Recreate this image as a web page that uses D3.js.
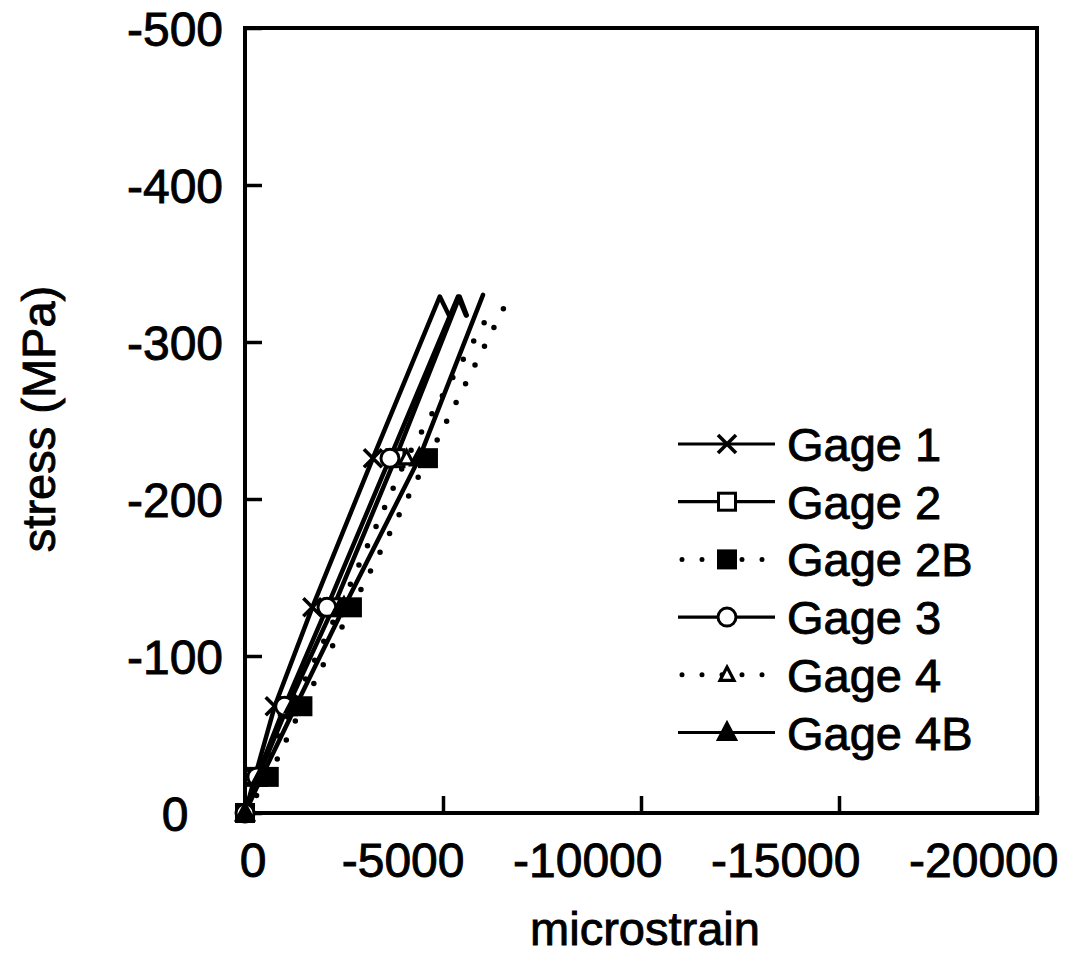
<!DOCTYPE html>
<html>
<head>
<meta charset="utf-8">
<script src="https://cdn.jsdelivr.net/npm/d3@7/dist/d3.min.js"></script>
<style>
  html, body { margin: 0; padding: 0; background: #fff; }
  svg { display: block; }
  text { font-family: "Liberation Sans", Arial, Helvetica, sans-serif; fill: #000; stroke: #000; stroke-width: 0.9px; }
</style>
</head>
<body>
<svg id="chart" width="1067" height="959"></svg>
<script>
// Strain gage readings: stress (MPa) against microstrain, compression negative.
const seriesNames = ["Gage 1", "Gage 2", "Gage 2B", "Gage 3", "Gage 4", "Gage 4B"];

const stressGage1  = [0, -23, -68, -131, -226, -329, -316];
const strainGage1  = [0, -250, -750, -1700, -3230, -4920, -5170];

const stressGage2  = [0, -23, -68, -131, -226, -329, -317];
const strainGage2  = [0, -330, -1080, -2230, -3800, -5420, -5600];

const stressGage2B = [0, -23, -68, -131, -226, -330];
const strainGage2B = [0, -600, -1450, -2700, -4620, -6700];

const stressGage3  = [0, -23, -68, -131, -226, -329, -317];
const strainGage3  = [0, -300, -1000, -2070, -3660, -5380, -5580];

const stressGage4  = [0, -23, -68, -131, -226, -322];
const strainGage4  = [0, -380, -1200, -2400, -4080, -6260];

const stressGage4B = [0, -23, -68, -131, -226, -330];
const strainGage4B = [0, -420, -1280, -2500, -4400, -6010];

// Load steps at which a symbol is plotted
const markedStress = [0, -23, -68, -131, -226];

const xTicks = [0, -5000, -10000, -15000, -20000];
const yTicks = [0, -100, -200, -300, -400, -500];

const series = [
  { name: seriesNames[0], strain: strainGage1,  stress: stressGage1,  dotted: false, symbol: "cross" },
  { name: seriesNames[1], strain: strainGage2,  stress: stressGage2,  dotted: false, symbol: "squareOpen" },
  { name: seriesNames[2], strain: strainGage2B, stress: stressGage2B, dotted: true,  symbol: "squareFilled" },
  { name: seriesNames[3], strain: strainGage3,  stress: stressGage3,  dotted: false, symbol: "circleOpen" },
  { name: seriesNames[4], strain: strainGage4,  stress: stressGage4,  dotted: true,  symbol: "triangleOpen" },
  { name: seriesNames[5], strain: strainGage4B, stress: stressGage4B, dotted: false, symbol: "triangleFilled" }
];

const svg = d3.select("#chart");
const plotLeft = 245, plotRight = 1037, plotTop = 28, plotBottom = 813;

const x = d3.scaleLinear().domain([0, -20000]).range([plotLeft, plotRight]);
const y = d3.scaleLinear().domain([0, -500]).range([plotBottom, plotTop]);

// Axes with inward ticks
const yAxis = svg.append("g")
  .attr("transform", `translate(${plotLeft},0)`)
  .call(d3.axisLeft(y).tickValues(yTicks).tickSizeInner(-17).tickSizeOuter(0)
    .tickFormat(d => String(d)));
yAxis.select(".domain").remove();
yAxis.selectAll(".tick line").attr("stroke", "#000").attr("stroke-width", 3.5);
yAxis.selectAll(".tick text")
  .attr("x", -70).attr("dy", "0.36em")
  .attr("text-anchor", "middle")
  .style("font-size", "48px");

const xAxis = svg.append("g")
  .attr("transform", `translate(0,${plotBottom})`)
  .call(d3.axisBottom(x).tickValues(xTicks).tickSizeInner(-17).tickSizeOuter(0)
    .tickFormat(d => String(d)));
xAxis.select(".domain").remove();
xAxis.selectAll(".tick line").attr("stroke", "#000").attr("stroke-width", 3.5);
xAxis.selectAll(".tick text")
  .attr("x", 21).attr("y", 64).attr("dy", 0)
  .attr("text-anchor", "end")
  .style("font-size", "48px");

// Plot frame
svg.append("rect")
  .attr("x", plotLeft).attr("y", plotTop)
  .attr("width", plotRight - plotLeft).attr("height", plotBottom - plotTop)
  .attr("fill", "none").attr("stroke", "#000").attr("stroke-width", 4);

// Axis titles
svg.append("text")
  .attr("x", 645).attr("y", 945)
  .attr("text-anchor", "middle")
  .style("font-size", "47px")
  .text("microstrain");

svg.append("text")
  .attr("transform", "translate(55,419) rotate(-90)")
  .attr("text-anchor", "middle")
  .style("font-size", "47px")
  .text("stress (MPa)");

// Symbol drawing
function drawSymbol(g, kind, cx, cy, scale) {
  const s = scale || 1;
  if (kind === "cross") {
    const h = 9 * s;
    g.append("path")
      .attr("d", `M${cx - h},${cy - h}L${cx + h},${cy + h}M${cx - h},${cy + h}L${cx + h},${cy - h}`)
      .attr("stroke", "#000").attr("stroke-width", 3.6).attr("fill", "none");
  } else if (kind === "squareOpen" || kind === "squareFilled") {
    const h = 8.5 * s;
    g.append("rect")
      .attr("x", cx - h).attr("y", cy - h).attr("width", 2 * h).attr("height", 2 * h)
      .attr("fill", kind === "squareFilled" ? "#000" : "#fff")
      .attr("stroke", "#000").attr("stroke-width", 3);
  } else if (kind === "circleOpen") {
    g.append("circle")
      .attr("cx", cx).attr("cy", cy).attr("r", 9 * s)
      .attr("fill", "#fff").attr("stroke", "#000").attr("stroke-width", 3);
  } else if (kind === "triangleOpen" || kind === "triangleFilled") {
    const h = (kind === "triangleOpen" ? 7 : 8.5) * s;
    g.append("path")
      .attr("d", `M${cx},${cy - h * 1.1}L${cx + h},${cy + h * 0.8}L${cx - h},${cy + h * 0.8}Z`)
      .attr("fill", kind === "triangleFilled" ? "#000" : "#fff")
      .attr("stroke", "#000").attr("stroke-width", 3.2).attr("stroke-linejoin", "miter");
  }
}

// Curves
const line = d3.line().x(d => x(d[0])).y(d => y(d[1]));
const curves = svg.append("g");
series.forEach(s => {
  const pts = s.strain.map((v, i) => [v, s.stress[i]]);
  curves.append("path")
    .datum(pts)
    .attr("d", line)
    .attr("fill", "none")
    .attr("stroke", "#000")
    .attr("stroke-width", s.dotted ? 5.5 : 4.5)
    .attr("stroke-linejoin", "round")
    .attr("stroke-linecap", "round")
    .attr("stroke-dasharray", s.dotted ? "0,21" : null);
});

// Symbols at the marked load steps
const marks = svg.append("g");
series.forEach(s => {
  s.strain.forEach((v, i) => {
    if (markedStress.includes(s.stress[i])) {
      drawSymbol(marks, s.symbol, x(v), y(s.stress[i]));
    }
  });
});

// Legend
const legend = svg.append("g");
const legendTop = 444, legendStep = 57.7;
series.forEach((s, i) => {
  const ly = legendTop + i * legendStep;
  if (s.dotted) {
    legend.append("line")
      .attr("x1", 682).attr("x2", 772).attr("y1", ly).attr("y2", ly)
      .attr("stroke", "#000").attr("stroke-width", 5)
      .attr("stroke-linecap", "round").attr("stroke-dasharray", "0,20");
  } else {
    legend.append("line")
      .attr("x1", 678).attr("x2", 775).attr("y1", ly).attr("y2", ly)
      .attr("stroke", "#000").attr("stroke-width", 3.2);
  }
  drawSymbol(legend, s.symbol, 727, ly, 1);
  legend.append("text")
    .attr("x", 787).attr("y", ly + 17)
    .style("font-size", "47px")
    .text(s.name);
});
</script>
</body>
</html>
